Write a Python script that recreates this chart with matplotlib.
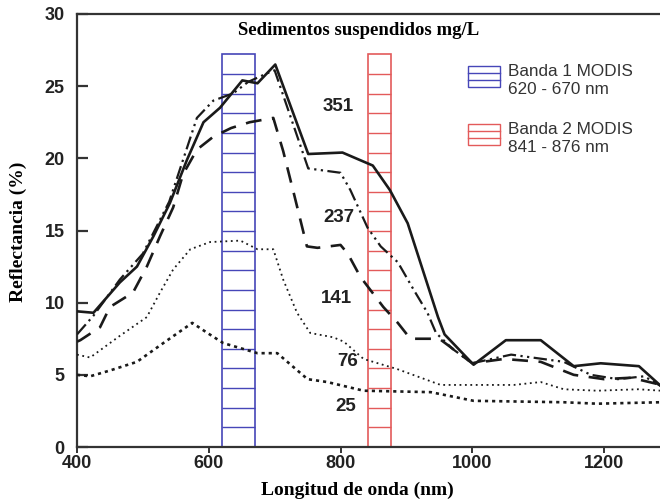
import numpy as np
import matplotlib
matplotlib.use("Agg")
import matplotlib.pyplot as plt
from matplotlib.patches import Rectangle

# curvas de reflectancia por concentracion de sedimentos (mg/L)
wl_351 = [400, 425, 465, 491, 516, 541, 567, 592, 617, 651, 674, 701, 751, 803, 849, 875, 902, 948, 958, 1002, 1051, 1104, 1154, 1195, 1253, 1287]
r_351 = [9.4, 9.3, 11.4, 12.5, 14.6, 16.9, 19.9, 22.5, 23.5, 25.4, 25.2, 26.5, 20.3, 20.4, 19.5, 17.8, 15.5, 9.0, 7.8, 5.7, 7.4, 7.4, 5.6, 5.8, 5.6, 4.2]

wl_237 = [400, 425, 465, 500, 540, 582, 607, 637, 660, 689, 700, 751, 800, 815, 841, 861, 887, 911, 932, 945, 970, 1000, 1059, 1139, 1180, 1221, 1261, 1287]
r_237 = [7.8, 9.1, 11.6, 13.4, 17.0, 22.8, 24.0, 24.5, 25.3, 25.9, 26.1, 19.3, 19.0, 17.8, 15.2, 13.9, 12.8, 10.9, 9.3, 7.9, 6.8, 5.8, 6.4, 5.9, 5.0, 4.7, 4.9, 4.2]

wl_141 = [400, 405, 435, 450, 485, 506, 526, 546, 561, 582, 607, 634, 662, 698, 713, 729, 749, 765, 800, 811, 830, 865, 887, 906, 950, 1000, 1048, 1104, 1154, 1200, 1241, 1287]
r_141 = [7.3, 7.4, 8.3, 9.7, 10.7, 12.5, 14.6, 16.6, 18.9, 20.6, 21.5, 22.1, 22.5, 22.8, 20.5, 17.6, 13.9, 13.8, 14.0, 13.4, 11.8, 9.7, 8.6, 7.5, 7.5, 5.8, 6.1, 5.9, 5.0, 4.7, 4.8, 4.3]

wl_76 = [400, 420, 465, 506, 526, 546, 572, 602, 648, 674, 698, 713, 734, 754, 789, 805, 835, 886, 952, 987, 1063, 1104, 1139, 1190, 1252, 1287]
r_76 = [6.4, 6.2, 7.7, 9.0, 10.7, 12.3, 13.7, 14.2, 14.3, 13.7, 13.7, 11.6, 9.3, 7.9, 7.6, 7.3, 6.1, 5.4, 4.3, 4.3, 4.3, 4.5, 4.0, 3.9, 4.0, 3.9]

wl_25 = [400, 420, 450, 491, 531, 575, 598, 622, 674, 704, 750, 780, 835, 937, 1002, 1139, 1190, 1285]
r_25 = [5.0, 4.9, 5.3, 5.9, 7.2, 8.6, 7.9, 7.2, 6.5, 6.5, 4.7, 4.5, 3.9, 3.8, 3.2, 3.1, 3.0, 3.1]

# etiquetas de las curvas (posicion en nm, reflectancia)
etiquetas = ["351", "237", "141", "76", "25"]
etiq_x = [796, 797, 794, 811, 808]
etiq_y = [23.6, 15.9, 10.3, 5.9, 2.8]

# bandas MODIS
banda1 = (620, 670)
banda2 = (841, 876)
banda_top = 27.2

fig = plt.figure(figsize=(6.6, 5.03), dpi=100)
ax = fig.add_axes([77 / 660, 1 - 447 / 503, 583 / 660, 433 / 503])

azul = "#4646b8"
rojo = "#e35a5a"

for (x0, x1), col in [(banda1, azul), (banda2, rojo)]:
    ax.add_patch(Rectangle((x0, 0), x1 - x0, banda_top, fill=False,
                           edgecolor=col, linewidth=1.2, zorder=1))
    niveles = np.linspace(0, banda_top, 21)[1:-1]
    ax.hlines(niveles, x0, x1, colors=col, linewidth=1.0, zorder=1)

negro = "#1a1a1a"
ax.plot(wl_351, r_351, color=negro, lw=1.9, ls="-", zorder=3)
ax.plot(wl_237, r_237, color=negro, lw=1.6, ls=(0, (6, 2, 1, 2, 1, 2)), zorder=3)
ax.plot(wl_141, r_141, color=negro, lw=1.9, ls=(0, (6, 4)), zorder=3)
ax.plot(wl_76, r_76, color=negro, lw=1.3, ls=(0, (1, 2)), zorder=3)
ax.plot(wl_25, r_25, color=negro, lw=1.9, ls=(0, (1.2, 1.5)), zorder=3)

for t, x, y in zip(etiquetas, etiq_x, etiq_y):
    ax.text(x, y, t, ha="center", va="center", fontsize=13.5, fontweight="bold",
            family="Liberation Sans", color="#222222")

ax.set_xlim(400, 1285)
ax.set_ylim(0, 30)
ax.set_xticks([400, 600, 800, 1000, 1200])
ax.set_yticks([0, 5, 10, 15, 20, 25, 30])

for s in ["left", "bottom", "top"]:
    ax.spines[s].set_linewidth(1.6)
    ax.spines[s].set_color("#333333")
ax.spines["right"].set_visible(False)

ax.tick_params(axis="y", direction="in", length=8, width=1.6, pad=9, colors="#333333")
ax.tick_params(axis="x", direction="out", length=4, width=1.4, pad=2, colors="#333333")
for lab in ax.get_xticklabels() + ax.get_yticklabels():
    lab.set_family("Liberation Sans")
    lab.set_fontweight("bold")
    lab.set_fontsize(13)
    lab.set_color("#222222")

ax.text(0.483, 0.962, "Sedimentos suspendidos mg/L", transform=ax.transAxes,
        ha="center", va="center", fontsize=13.5, fontweight="bold", family="Liberation Serif")
fig.text(357 / 660, 1 - 490 / 503, "Longitud de onda (nm)", ha="center", va="center",
         fontsize=14, fontweight="bold", family="Liberation Serif")
fig.text(18 / 660, 1 - 232 / 503, "Reflectancia (%)", ha="center", va="center", rotation=90,
         fontsize=14, fontweight="bold", family="Liberation Serif")

# leyenda dibujada a mano
for y_top, col, l1, l2 in [(66, azul, "Banda 1 MODIS", "620 - 670 nm"),
                           (124, rojo, "Banda 2 MODIS", "841 - 876 nm")]:
    x0 = (468 - 77) / 583
    w = 32 / 583
    h = 21 / 433
    y0 = (447 - y_top - 21) / 433
    ax.add_patch(Rectangle((x0, y0), w, h, transform=ax.transAxes, fill=False,
                           edgecolor=col, linewidth=1.0))
    for k in (1, 2):
        ax.plot([x0, x0 + w], [y0 + h * k / 3] * 2, transform=ax.transAxes,
                color=col, lw=1.0)
    ax.text((508 - 77) / 583, (447 - y_top - 6) / 433, l1, transform=ax.transAxes,
            ha="left", va="center", fontsize=12.3, family="Liberation Sans", color="#333333")
    ax.text((508 - 77) / 583, (447 - y_top - 24) / 433, l2, transform=ax.transAxes,
            ha="left", va="center", fontsize=12.3, family="Liberation Sans", color="#333333")

fig.savefig("out.png", dpi=100)
